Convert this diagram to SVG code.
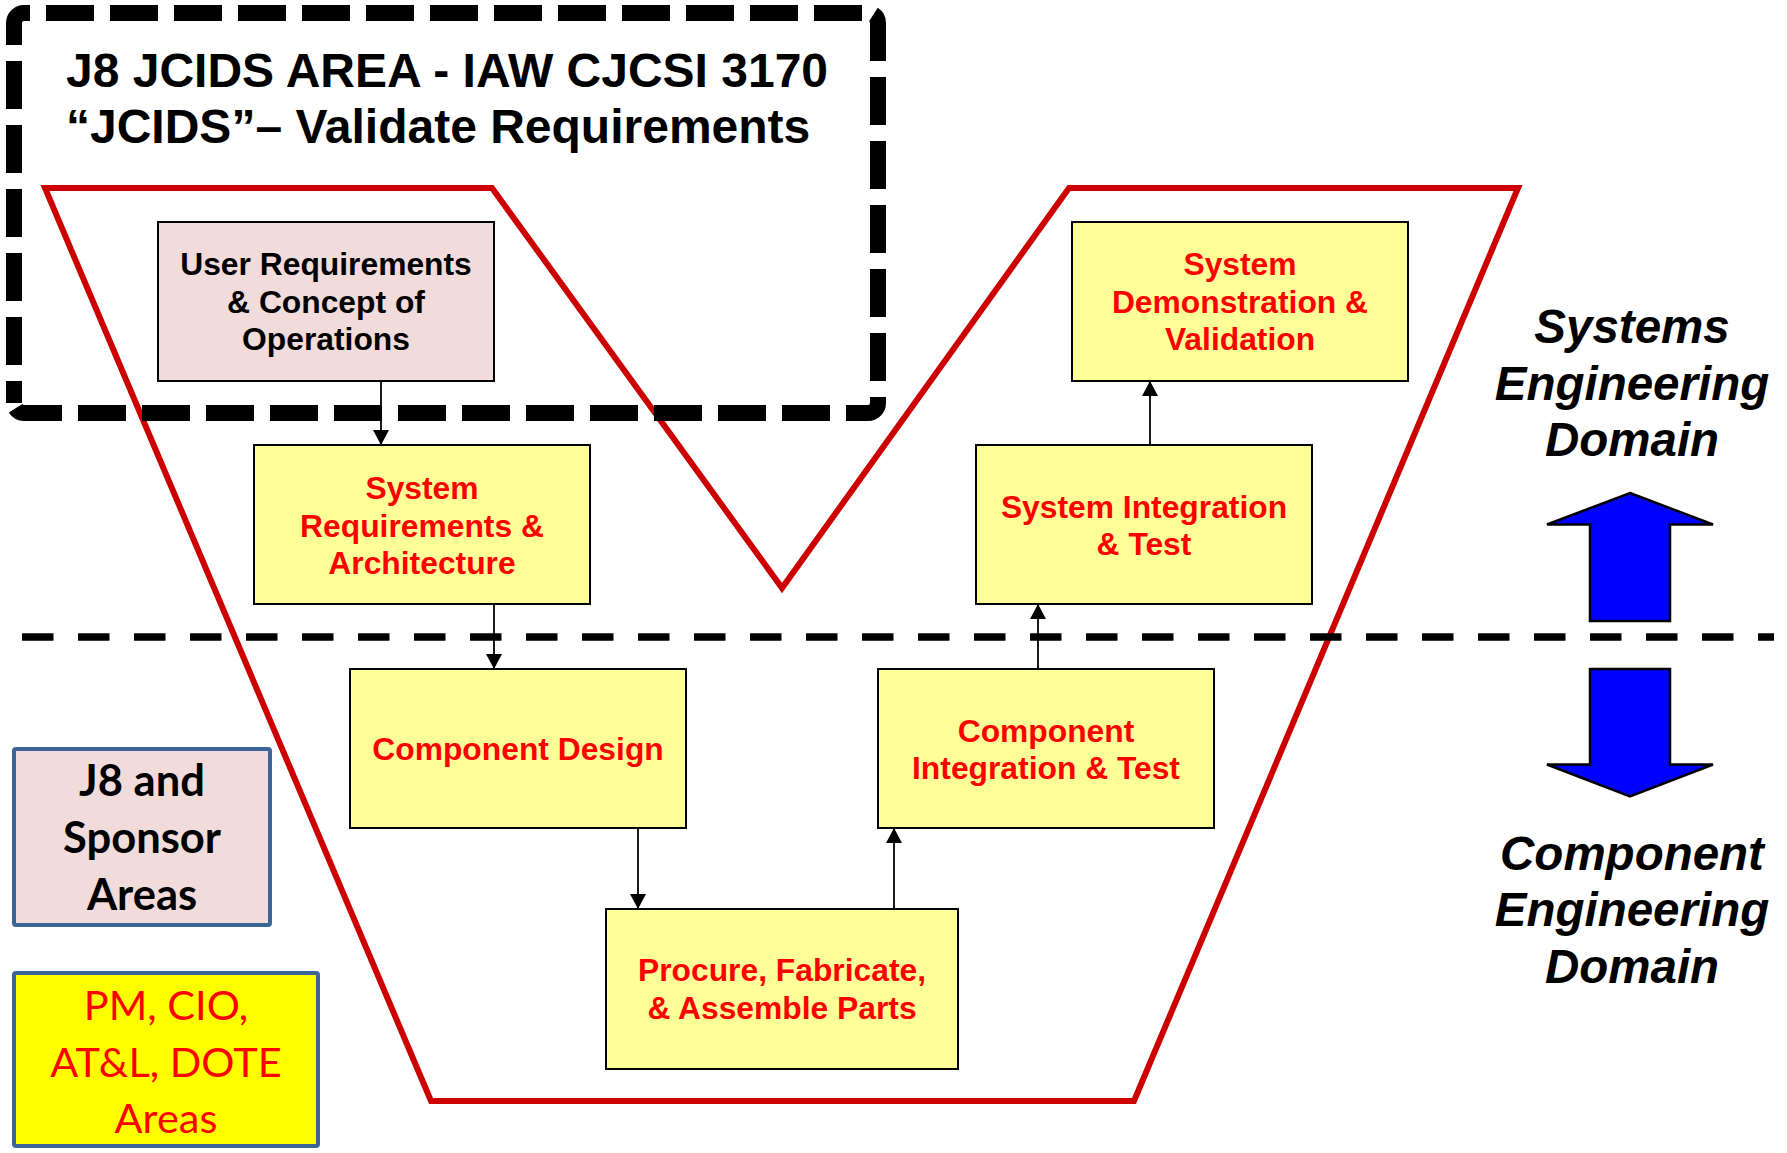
<svg xmlns="http://www.w3.org/2000/svg" width="1787" height="1153" viewBox="0 0 1787 1153">
  <style>
    .box { stroke: #000; stroke-width: 2; }
    .yel { fill: #FFFF99; }
    .pink { fill: #F2DCDB; }
    .lbl { font-family: "Liberation Sans", Arial, sans-serif; font-weight: bold; font-size: 31.8px; text-anchor: middle; }
    .red { fill: #FF0000; }
    .blk { fill: #000; }
    .title { font-family: "Liberation Sans", Arial, sans-serif; font-weight: bold; font-size: 48px; fill: #000; }
    .domain { font-family: "Liberation Sans", Arial, sans-serif; font-weight: bold; font-style: italic; font-size: 47.5px; fill: #000; text-anchor: middle; }
    .key { stroke: #3C6496; stroke-width: 4; }
    .keytxt { font-family: Lato, "Open Sans", sans-serif; text-anchor: middle; }
    .conn { stroke: #000; stroke-width: 1.8; fill: none; marker-end: url(#arrow); }
    .jcids { fill: none; stroke: #000; stroke-width: 16; stroke-dasharray: 48 16; stroke-linecap: butt; }
    .bigarrow { fill: #0000FF; stroke: #000; stroke-width: 2.5; stroke-linejoin: miter; }
  </style>
  <defs>
    <marker id="arrow" markerUnits="userSpaceOnUse" markerWidth="16" markerHeight="16" refX="15" refY="8" orient="auto">
      <path d="M0,0 L15,8 L0,16 Z" fill="#000"/>
    </marker>
  </defs>

  <rect width="1787" height="1153" fill="#fff"/>

  <!-- V-model outline -->
  <polygon id="vee" points="45,188 492,188 782,588 1069,188 1518,188 1134,1101 431,1101" fill="none" stroke="#CC0000" stroke-width="6" stroke-linejoin="miter"/>

  <!-- JCIDS area: dashed rounded frame, each side dashed on its own -->
  <g id="jcids-area">
    <path class="jcids" d="M14,403 V23 A10,10 0 0 1 24,13 H30" stroke-dashoffset="26"/>
    <path class="jcids" d="M30,13 H868" stroke-dashoffset="48"/>
    <path class="jcids" d="M868,13 A10,10 0 0 1 878,23 V403 A10,10 0 0 1 868,413 H846" stroke-dashoffset="58.3"/>
    <path class="jcids" d="M846,413 H24 A10,10 0 0 1 14,403" stroke-dashoffset="48"/>
    <text class="title" x="66" y="86.5">J8 JCIDS AREA - IAW CJCSI 3170</text>
    <text class="title" x="66" y="143">“JCIDS”– Validate Requirements</text>
  </g>

  <!-- boundary between systems and component engineering -->
  <line id="domain-divider" x1="22" y1="637" x2="1774" y2="637" stroke="#000" stroke-width="7.5" stroke-dasharray="31.5 24.5"/>

  <!-- connectors -->
  <g id="connectors">
    <line class="conn" x1="381" y1="381" x2="381" y2="445"/>
    <line class="conn" x1="494" y1="604" x2="494" y2="669"/>
    <line class="conn" x1="638" y1="828" x2="638" y2="909"/>
    <line class="conn" x1="894" y1="909" x2="894" y2="828"/>
    <line class="conn" x1="1038" y1="669" x2="1038" y2="604"/>
    <line class="conn" x1="1150" y1="445" x2="1150" y2="381"/>
  </g>

  <!-- nodes -->
  <g id="n-user">
    <rect class="box pink" x="158" y="222" width="336" height="159"/>
    <text class="lbl blk" x="326" y="275">User Requirements</text>
    <text class="lbl blk" x="326" y="312.5">&amp; Concept of</text>
    <text class="lbl blk" x="326" y="350">Operations</text>
  </g>
  <g id="n-sysreq">
    <rect class="box yel" x="254" y="445" width="336" height="159"/>
    <text class="lbl red" x="422" y="499">System</text>
    <text class="lbl red" x="422" y="536.5">Requirements &amp;</text>
    <text class="lbl red" x="422" y="574">Architecture</text>
  </g>
  <g id="n-compdesign">
    <rect class="box yel" x="350" y="669" width="336" height="159"/>
    <text class="lbl red" x="518" y="760">Component Design</text>
  </g>
  <g id="n-procure">
    <rect class="box yel" x="606" y="909" width="352" height="160"/>
    <text class="lbl red" x="782" y="981">Procure, Fabricate,</text>
    <text class="lbl red" x="782" y="1018.5">&amp; Assemble Parts</text>
  </g>
  <g id="n-compint">
    <rect class="box yel" x="878" y="669" width="336" height="159"/>
    <text class="lbl red" x="1046" y="741.5">Component</text>
    <text class="lbl red" x="1046" y="779">Integration &amp; Test</text>
  </g>
  <g id="n-sysint">
    <rect class="box yel" x="976" y="445" width="336" height="159"/>
    <text class="lbl red" x="1144" y="517.5">System Integration</text>
    <text class="lbl red" x="1144" y="555">&amp; Test</text>
  </g>
  <g id="n-sysdemo">
    <rect class="box yel" x="1072" y="222" width="336" height="159"/>
    <text class="lbl red" x="1240" y="275">System</text>
    <text class="lbl red" x="1240" y="312.5">Demonstration &amp;</text>
    <text class="lbl red" x="1240" y="350">Validation</text>
  </g>

  <!-- domain labels and direction arrows -->
  <g id="systems-domain">
    <text class="domain" x="1632" y="343">Systems</text>
    <text class="domain" x="1632" y="399.5">Engineering</text>
    <text class="domain" x="1632" y="455.5">Domain</text>
    <polygon class="bigarrow" points="1630,493 1713,524.5 1670,524.5 1670,621 1590,621 1590,524.5 1547,524.5"/>
  </g>
  <g id="component-domain">
    <polygon class="bigarrow" points="1590,669 1670,669 1670,764.5 1713,764.5 1630,796.5 1547,764.5 1590,764.5"/>
    <text class="domain" x="1632" y="870">Component</text>
    <text class="domain" x="1632" y="926">Engineering</text>
    <text class="domain" x="1632" y="982.5">Domain</text>
  </g>

  <!-- legend boxes -->
  <g id="key-j8">
    <rect class="key" x="14" y="749" width="256" height="176" rx="2" fill="#F2DCDB"/>
    <text class="keytxt" x="142" y="795.5" font-size="43.5" font-weight="bold" fill="#000">J8 and</text>
    <text class="keytxt" x="142" y="852.5" font-size="43.5" font-weight="bold" fill="#000">Sponsor</text>
    <text class="keytxt" x="142" y="910" font-size="43.5" font-weight="bold" fill="#000">Areas</text>
  </g>
  <g id="key-pm">
    <rect class="key" x="14" y="973" width="304" height="173" rx="2" fill="#FFFF00"/>
    <text class="keytxt" x="166" y="1020" font-size="41.5" fill="#FF0000">PM, CIO,</text>
    <text class="keytxt" x="166" y="1076.5" font-size="41.5" fill="#FF0000">AT&amp;L, DOTE</text>
    <text class="keytxt" x="166" y="1133" font-size="41.5" fill="#FF0000">Areas</text>
  </g>
</svg>
